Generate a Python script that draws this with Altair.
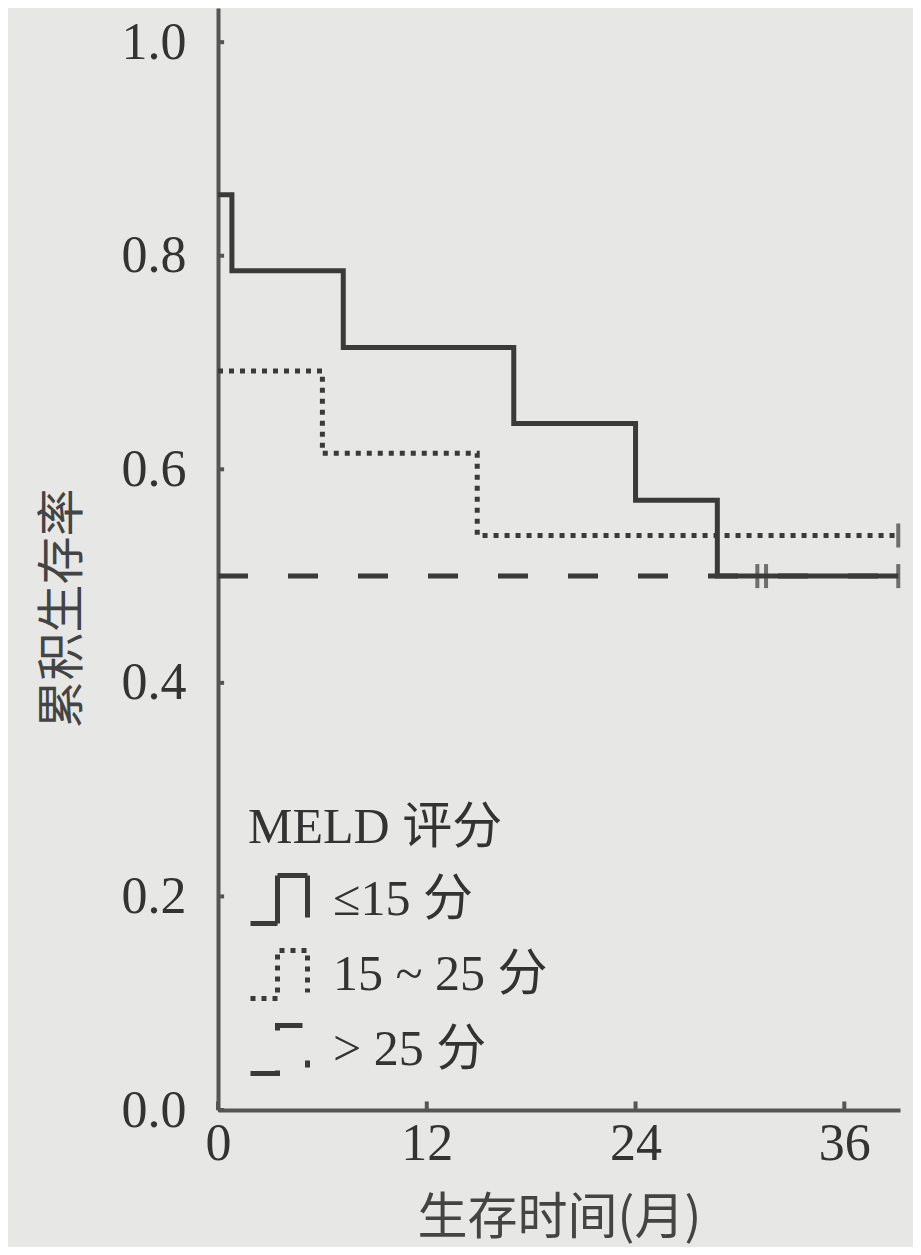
import altair as alt
import pandas as pd

# ---- data ----
groups = ["≤15 分", "15 ~ 25 分", "> 25 分"]
solid_t = [0, 0.8, 7.2, 17.0, 24.0, 28.7, 39.1]
solid_s = [0.857, 0.786, 0.714, 0.643, 0.571, 0.500, 0.500]
dotted_t = [0, 6.0, 14.9, 39.1]
dotted_s = [0.692, 0.615, 0.538, 0.538]
dashed_t = [0, 39.1]
dashed_s = [0.500, 0.500]
censor_t = [31.0, 31.5, 39.1, 39.1]
censor_s = [0.500, 0.500, 0.538, 0.500]
x_ticks = [0, 12, 24, 36]
y_ticks = [0.0, 0.2, 0.4, 0.6, 0.8, 1.0]

rows = []
for g, ts, ss in [(groups[2], dashed_t, dashed_s), (groups[1], dotted_t, dotted_s), (groups[0], solid_t, solid_s)]:
    for i, (t, s) in enumerate(zip(ts, ss)):
        rows.append({"group": g, "t": t, "s": s, "i": i})
lines_df = pd.DataFrame(rows)
censor_df = pd.DataFrame({"t": censor_t, "s": censor_s})
yt_df = pd.DataFrame({"v": y_ticks, "x0": 0.0, "x1": 0.35})
xt_df = pd.DataFrame({"v": x_ticks, "y0": 0.0, "y1": 0.008})

INK = "#3a3a3a"
SERIF = "Liberation Serif, Noto Sans CJK SC"
CJK = "Noto Sans CJK SC"

xs = alt.Scale(domain=[0, 39.2], nice=False, zero=False)
ys = alt.Scale(domain=[0, 1.032], nice=False, zero=False)

xaxis = alt.Axis(values=x_ticks, title="生存时间(月)", titleFont=CJK, titleFontSize=50,
                 titleFontWeight="normal", titleColor="#444", titleY=108, titleBaseline="middle",
                 labelFont=SERIF, labelFontSize=52, labelColor="#333", labelPadding=8,
                 tickSize=0, grid=False, domainColor="#555", domainWidth=4, labelFlush=False)
yaxis = alt.Axis(values=y_ticks, format=".1f", title="累积生存率", titleFont=CJK, titleFontSize=48,
                 titleFontWeight="normal", titleColor="#444", titleAngle=270, titleX=-155, titleY=600,
                 titleAlign="center", titleBaseline="middle",
                 labelFont=SERIF, labelFontSize=52, labelColor="#333", labelPadding=32,
                 tickSize=0, grid=False, domainColor="#555", domainWidth=4)

step_path = "M-1,0.8H-0.1V-0.8H0.9V0.6"

lines = alt.Chart(lines_df).mark_line(interpolate="step-after", strokeWidth=5, color=INK).encode(
    x=alt.X("t:Q", scale=xs, axis=xaxis),
    y=alt.Y("s:Q", scale=ys, axis=yaxis),
    strokeDash=alt.StrokeDash("group:N", scale=alt.Scale(domain=groups, range=[[1, 0], [5, 6], [30, 40]]),
                              legend=alt.Legend(orient="none", legendX=30, legendY=795, title="MELD 评分",
                                                titleFont=SERIF, titleFontSize=50, titleFontWeight="normal",
                                                titleColor="#333", titlePadding=14, titleLimit=600,
                                                labelFont=SERIF, labelFontSize=50, labelColor="#333",
                                                labelOffset=20, symbolType=step_path, symbolSize=3600,
                                                symbolStrokeWidth=5, symbolStrokeColor=INK,
                                                symbolFillColor="transparent", rowPadding=6,
                                                labelLimit=400)),
    order="i:Q",
    detail="group:N",
)

censor = alt.Chart(censor_df).mark_tick(orient="vertical", size=24, thickness=4, color=INK).encode(
    x=alt.X("t:Q", scale=xs), y=alt.Y("s:Q", scale=ys))

yt = alt.Chart(yt_df).mark_rule(color="#555", strokeWidth=4).encode(
    x=alt.X("x0:Q", scale=xs), x2="x1:Q", y=alt.Y("v:Q", scale=ys))
xt = alt.Chart(xt_df).mark_rule(color="#555", strokeWidth=4).encode(
    x=alt.X("v:Q", scale=xs), y=alt.Y("y0:Q", scale=ys), y2="y1:Q")

chart = alt.layer(lines, censor, yt, xt).properties(
    width=682, height=1102,
    autosize=alt.AutoSizeParams(type="none"),
    padding={"left": 210, "top": 0, "right": 13, "bottom": 137},
    background="#e7e8e6",
).configure_view(stroke=None)

chart.save("out.html", embed_options={"renderer": "svg", "actions": False})
